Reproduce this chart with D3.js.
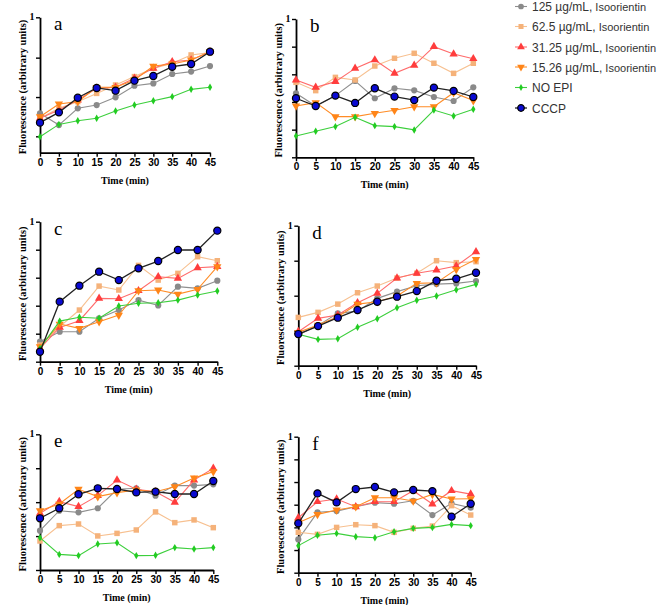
<!DOCTYPE html>
<html><head><meta charset="utf-8">
<script src="https://cdn.jsdelivr.net/npm/d3@7"></script>
<style>body{margin:0;background:#fff}svg{display:block}</style>
</head><body><svg id="chart" width="658" height="605"></svg>
<script>
// ---------- DATA ----------
const times = [0, 5, 10, 15, 20, 25, 30, 35, 40, 45];
const xTickLabels = ["0","5","10","15","20","25","30","35","40","45"];
const seriesConc = ["125 µg/mL,", "62.5 µg/mL,", "31.25 µg/mL,", "15.26 µg/mL,", "NO EPI", "CCCP"];
const seriesSuffix = [" Isoorientin", " Isoorientin", " Isoorientin", " Isoorientin", "", ""];
const panelLetters = ["a", "b", "c", "d", "e", "f"];
const yTopLabel = "1";
const xTitle = "Time (min)";
const yTitle = "Fluorescence (arbitrary units)";

// series order: 125, 62.5, 31.25, 15.26, NO EPI, CCCP
const panelA = [
  [0.291,0.204,0.328,0.352,0.409,0.495,0.512,0.581,0.599,0.640],
  [0.254,0.328,0.377,0.438,0.500,0.562,0.623,0.660,0.722,0.739],
  [0.254,0.315,0.389,0.475,0.483,0.549,0.623,0.672,0.685,0.746],
  [0.266,0.360,0.377,0.483,0.483,0.537,0.640,0.655,0.685,0.746],
  [0.118,0.209,0.236,0.254,0.308,0.352,0.384,0.414,0.468,0.483],
  [0.222,0.298,0.406,0.478,0.458,0.532,0.567,0.635,0.655,0.746]
];
const panelB = [
  [0.463,0.371,0.446,0.552,0.427,0.499,0.484,0.436,0.407,0.506],
  [0.542,0.482,0.578,0.559,0.660,0.716,0.752,0.680,0.607,0.680],
  [0.559,0.506,0.547,0.643,0.704,0.607,0.665,0.800,0.747,0.713],
  [0.371,0.395,0.294,0.294,0.318,0.340,0.366,0.366,0.467,0.410],
  [0.154,0.188,0.222,0.289,0.229,0.222,0.198,0.342,0.299,0.347],
  [0.427,0.371,0.446,0.393,0.499,0.439,0.414,0.504,0.480,0.436]
];
const panelC = [
  [0.143,0.214,0.214,0.310,0.369,0.440,0.402,0.536,0.524,0.579],
  [0.119,0.250,0.369,0.540,0.512,0.688,0.583,0.631,0.750,0.721],
  [0.095,0.245,0.293,0.452,0.450,0.507,0.607,0.595,0.671,0.679],
  [0.107,0.269,0.238,0.286,0.333,0.507,0.512,0.483,0.517,0.679],
  [0.095,0.290,0.317,0.310,0.398,0.417,0.421,0.440,0.476,0.505],
  [0.071,0.429,0.543,0.643,0.583,0.667,0.719,0.798,0.798,0.936]
];
const panelD = [
  [0.219,0.288,0.374,0.390,0.481,0.529,0.571,0.583,0.588,0.605],
  [0.345,0.381,0.440,0.521,0.569,0.626,0.660,0.750,0.736,0.743],
  [0.243,0.338,0.362,0.450,0.517,0.626,0.660,0.683,0.712,0.814],
  [0.238,0.290,0.350,0.440,0.457,0.498,0.588,0.593,0.688,0.760],
  [0.224,0.188,0.193,0.274,0.336,0.414,0.467,0.498,0.543,0.581],
  [0.226,0.283,0.343,0.398,0.457,0.493,0.533,0.607,0.621,0.664]
];
const panelE = [
  [0.290,0.437,0.425,0.455,0.595,0.602,0.548,0.622,0.622,0.631],
  [0.214,0.327,0.339,0.251,0.270,0.295,0.428,0.349,0.369,0.312],
  [0.418,0.504,0.467,0.548,0.663,0.595,0.577,0.499,0.663,0.749],
  [0.437,0.486,0.595,0.541,0.570,0.590,0.577,0.614,0.678,0.725],
  [0.238,0.115,0.106,0.192,0.201,0.106,0.108,0.165,0.155,0.165],
  [0.381,0.455,0.558,0.602,0.597,0.572,0.577,0.560,0.560,0.656]
];
const panelF = [
  [0.245,0.444,0.453,0.485,0.515,0.507,0.529,0.424,0.510,0.478],
  [0.297,0.282,0.333,0.353,0.346,0.297,0.326,0.343,0.493,0.424],
  [0.404,0.522,0.542,0.485,0.522,0.522,0.603,0.505,0.603,0.578],
  [0.368,0.429,0.461,0.485,0.551,0.551,0.527,0.576,0.542,0.544],
  [0.199,0.275,0.289,0.265,0.257,0.301,0.326,0.333,0.355,0.346],
  [0.363,0.583,0.517,0.615,0.630,0.591,0.608,0.600,0.412,0.507]
];
const yTicksA = [0.121, 0.411, 0.702, 1];
const yTicksB = [0, 0.2, 0.4, 0.6, 0.8, 1];
const yTicksC = [0, 0.2, 0.4, 0.6, 0.8, 1];
const yTicksD = [0, 0.25, 0.5, 0.75, 1];
const yTicksE = [0, 0.25, 0.5, 0.75, 1];
const yTicksF = [0, 1/6, 2/6, 3/6, 4/6, 5/6, 1];

// ---------- STYLE / LAYOUT ----------
const panelValues = [panelA, panelB, panelC, panelD, panelE, panelF];
const panelTicks = [yTicksA, yTicksB, yTicksC, yTicksD, yTicksE, yTicksF];
const layout = [
  {x0: 40,    x1: 210,   yt: 17.3,  yb: 152.7},
  {x0: 296,   x1: 473.3, yt: 19,    yb: 157.3},
  {x0: 40,    x1: 217.3, yt: 221.7, yb: 361.7},
  {x0: 298.3, x1: 476,   yt: 225.7, yb: 365.7},
  {x0: 40,    x1: 213.3, yt: 434.3, yb: 570},
  {x0: 298.3, x1: 470.7, yt: 436.7, yb: 572.7}
];
const styles = [
  {line: "#8f8f8f", fill: "#8a8a8a", stroke: "none", sym: d3.symbolCircle, size: 30, rot: 0},
  {line: "#f7c090", fill: "#f5b27a", stroke: "none", sym: d3.symbolSquare, size: 30, rot: 0},
  {line: "#ff6b6b", fill: "#ff3d3d", stroke: "none", sym: d3.symbolTriangle, size: 30, rot: 0},
  {line: "#ff8c26", fill: "#ff8518", stroke: "none", sym: d3.symbolTriangle, size: 30, rot: 180},
  {line: "#3ccf3c", fill: "#22cc22", stroke: "none", sym: d3.symbolDiamond, size: 16, rot: 0},
  {line: "#222222", fill: "#0a0ad2", stroke: "#000", sym: d3.symbolCircle, size: 40, rot: 0}
];
const serif = "'Liberation Serif','Times New Roman',serif";
const sans = "'Liberation Sans',Arial,sans-serif";

const svg = d3.select("#chart");

panelValues.forEach((vals, p) => {
  const L = layout[p];
  const x = d3.scaleLinear().domain([0, 45]).range([L.x0, L.x1]);
  const y = d3.scaleLinear().domain([0, 1]).range([L.yb, L.yt]);
  const g = svg.append("g");

  // x axis
  const xa = g.append("g").attr("transform", `translate(0,${L.yb})`)
    .call(d3.axisBottom(x).tickValues(times).tickSize(4).tickSizeOuter(0)
      .tickFormat((d, i) => xTickLabels[i]));
  xa.select(".domain").attr("stroke", "#000").attr("stroke-width", 1.8);
  xa.selectAll(".tick line").attr("stroke", "#000").attr("stroke-width", 1.4);
  xa.selectAll(".tick text").attr("font-family", sans).attr("font-weight", "bold")
    .attr("font-size", 10).attr("fill", "#000").attr("dy", "0.8em").attr("y", 5);

  // y axis
  const ya = g.append("g").attr("transform", `translate(${L.x0},0)`)
    .call(d3.axisLeft(y).tickValues(panelTicks[p]).tickSize(4).tickSizeOuter(0).tickFormat(""));
  ya.select(".domain").attr("stroke", "#000").attr("stroke-width", 1.8);
  ya.selectAll(".tick line").attr("stroke", "#000").attr("stroke-width", 1.4);

  g.append("text").attr("x", L.x0 - 8).attr("y", L.yt + 3)
    .attr("text-anchor", "middle").attr("font-family", serif).attr("font-weight", "bold")
    .attr("font-size", 10).text(yTopLabel);

  // titles
  g.append("text").attr("x", (L.x0 + L.x1) / 2).attr("y", L.yb + 31)
    .attr("text-anchor", "middle").attr("font-family", serif).attr("font-weight", "bold")
    .attr("font-size", 10).text(xTitle);
  const cy = (L.yt + L.yb) / 2 + 2;
  g.append("text").attr("transform", `translate(${L.x0 - 14},${cy}) rotate(-90)`)
    .attr("text-anchor", "middle").attr("font-family", serif).attr("font-weight", "bold")
    .attr("font-size", 10.5).text(yTitle);

  // panel letter
  g.append("text").attr("x", L.x0 + 14).attr("y", L.yt + 13)
    .attr("font-family", serif).attr("font-size", 19).text(panelLetters[p]);

  // series
  const line = d3.line().x((d, i) => x(times[i])).y(d => y(d));
  vals.forEach((arr, s) => {
    const st = styles[s];
    const sg = g.append("g");
    sg.append("path").attr("d", line(arr)).attr("fill", "none")
      .attr("stroke", st.line).attr("stroke-width", s === 5 ? 1.3 : 1.1);
    sg.selectAll("path.m").data(arr).enter().append("path").attr("class", "m")
      .attr("d", d3.symbol().type(st.sym).size(st.size)())
      .attr("transform", (d, i) => `translate(${x(times[i])},${y(d)}) rotate(${st.rot})`)
      .attr("fill", st.fill).attr("stroke", st.stroke).attr("stroke-width", 1.2);
  });
});

// legend
const legY = [6.5, 26.5, 47, 67, 87.5, 108];
seriesConc.forEach((name, s) => {
  const st = styles[s];
  const gy = legY[s];
  const lg = svg.append("g");
  lg.append("line").attr("x1", 515).attr("x2", 527).attr("y1", gy).attr("y2", gy)
    .attr("stroke", st.line).attr("stroke-width", s === 5 ? 1.3 : 1.1);
  lg.append("path").attr("d", d3.symbol().type(st.sym).size(st.size * 0.85)())
    .attr("transform", `translate(521,${gy}) rotate(${st.rot})`)
    .attr("fill", st.fill).attr("stroke", st.stroke).attr("stroke-width", 1.2);
  const t = lg.append("text").attr("x", 532).attr("y", gy + 4.5)
    .attr("font-family", sans).attr("fill", "#333");
  t.append("tspan").attr("font-size", 12).text(name);
  if (seriesSuffix[s]) t.append("tspan").attr("font-size", 11).text(seriesSuffix[s]);
});
</script>
</body></html>
